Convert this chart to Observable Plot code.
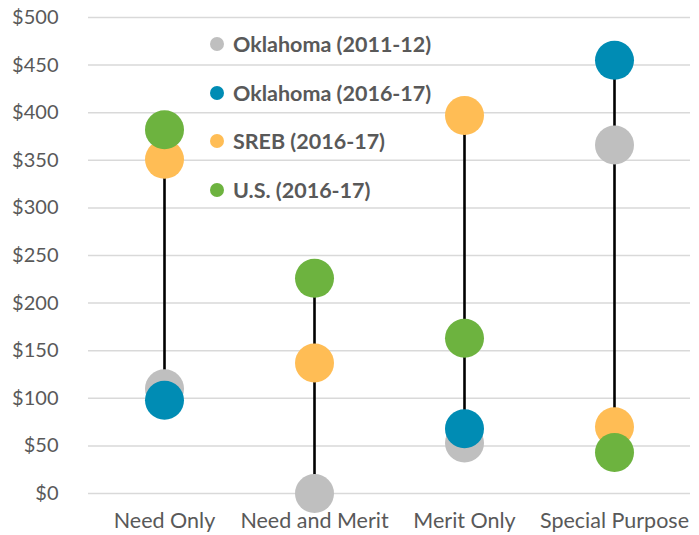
<!DOCTYPE html>
<html>
<head>
<meta charset="utf-8">
<script src="https://cdn.jsdelivr.net/npm/d3@7"></script>
<script src="https://cdn.jsdelivr.net/npm/@observablehq/plot@0.6"></script>
<style>
  html, body { margin: 0; padding: 0; background: #fff; }
  #wrap { position: relative; width: 699px; height: 535px; }
  #legend { position: absolute; left: 210px; top: 20px; font-family: Lato, sans-serif; font-weight: 700; font-size: 21.5px; color: #595959; }
  .item { display: flex; align-items: center; height: 48.6px; }
  .sw { width: 14px; height: 14px; border-radius: 50%; margin-right: 9px; }
  .xax text { font-size: 21.5px; }
</style>
</head>
<body>
<div id="wrap"><div id="legend"></div></div>
<script>
const categories = ["Need Only", "Need and Merit", "Merit Only", "Special Purpose"];
const seriesNames = ["Oklahoma (2011-12)", "Oklahoma (2016-17)", "SREB (2016-17)", "U.S. (2016-17)"];
const seriesColors = ["#BFBFBF", "#008CB4", "#FFBD55", "#6DB33F"];
const oklahoma2011 = [110, 0, 53, 366];
const oklahoma2016 = [98, null, 68, 455];
const sreb2016 = [351, 137, 397, 70];
const us2016 = [382, 226, 163, 43];
const yTicks = [0, 50, 100, 150, 200, 250, 300, 350, 400, 450, 500];

const seriesValues = [oklahoma2011, oklahoma2016, sreb2016, us2016];
const rows = [];
seriesValues.forEach((vals, si) => {
  vals.forEach((v, ci) => {
    if (v != null) rows.push({category: categories[ci], series: seriesNames[si], value: v});
  });
});
const spans = categories.map(c => {
  const vs = rows.filter(r => r.category === c).map(r => r.value);
  return {category: c, lo: d3.min(vs), hi: d3.max(vs)};
});

const chart = Plot.plot({
  width: 699,
  height: 535,
  marginLeft: 88,
  marginRight: 9,
  marginTop: 17,
  marginBottom: 42,
  style: {fontFamily: "Lato, sans-serif", fontSize: "20px", color: "#595959", background: "#fff"},
  x: {type: "band", domain: categories, padding: 0, label: null},
  y: {domain: [0, 500], label: null},
  color: {domain: seriesNames, range: seriesColors},
  marks: [
    Plot.gridY(yTicks, {stroke: "#d9d9d9", strokeOpacity: 1, strokeWidth: 1.5}),
    Plot.axisY(yTicks, {tickSize: 0, tickPadding: 30, tickFormat: d => "$" + d, fill: "#595959"}),
    Plot.axisX({tickSize: 0, tickPadding: 19, fill: "#595959", className: "xax"}),
    Plot.ruleX(spans, {x: "category", y1: "lo", y2: "hi", stroke: "#000", strokeWidth: 2.6}),
    Plot.dot(rows, {x: "category", y: "value", fill: "series", r: 19.5})
  ]
});
document.getElementById("wrap").prepend(chart);

const legend = document.getElementById("legend");
seriesNames.forEach((n, i) => {
  const it = document.createElement("div");
  it.className = "item";
  const sw = document.createElement("span");
  sw.className = "sw";
  sw.style.background = seriesColors[i];
  const t = document.createElement("span");
  t.textContent = n;
  it.appendChild(sw); it.appendChild(t);
  legend.appendChild(it);
});
</script>
</body>
</html>
